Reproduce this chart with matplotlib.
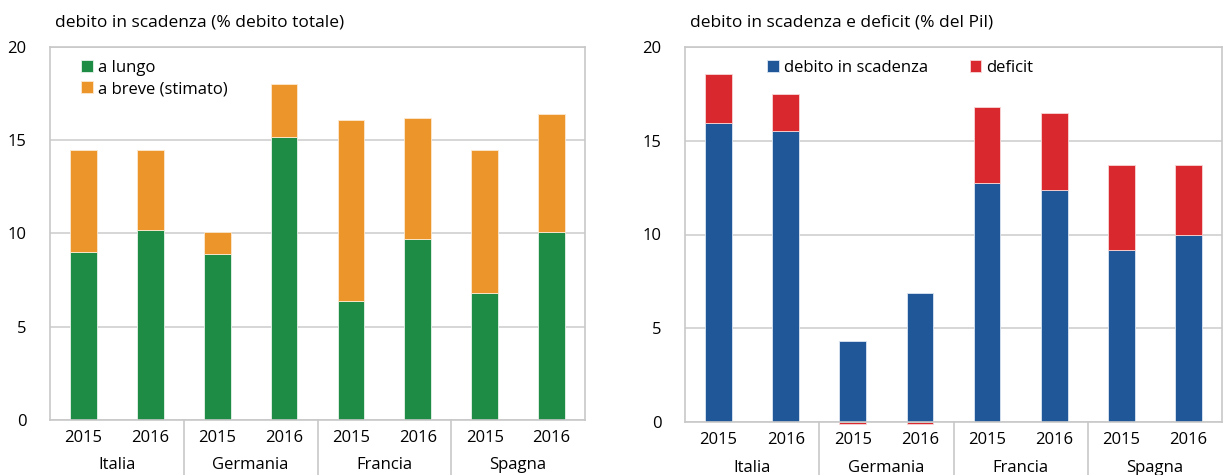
import numpy as np
import matplotlib.pyplot as plt

plt.rcParams['font.family'] = ['Open Sans', 'DejaVu Sans']

paesi = ["Italia", "Germania", "Francia", "Spagna"]
anni = ["2015", "2016"]

# pannello sinistro: % debito totale
a_lungo = [9.0, 10.2, 8.9, 15.2, 6.4, 9.7, 6.8, 10.1]
a_breve = [5.5, 4.3, 1.2, 2.8, 9.7, 6.5, 7.7, 6.3]

# pannello destro: % del Pil
debito_scad = [15.95, 15.5, 4.3, 6.9, 12.75, 12.4, 9.2, 10.0]
deficit = [2.6, 2.0, -0.1, -0.1, 4.05, 4.1, 4.5, 3.7]

fig = plt.figure(figsize=(12.24, 4.75), dpi=100)
ax1 = fig.add_axes([50 / 1224, 55 / 475, 535 / 1224, 373 / 475])
ax2 = fig.add_axes([685 / 1224, 53 / 475, 537 / 1224, 375 / 475])

x = np.arange(len(a_lungo))
labels_anni = anni * len(paesi)


def style(ax, title):
    ax.set_ylim(0, 20)
    ax.set_xlim(-0.5, len(x) - 0.5)
    ax.set_yticks([0, 5, 10, 15, 20])
    ax.grid(axis='y', color='#d0d0d0', linewidth=1.2)
    ax.set_axisbelow(True)
    for s in ax.spines.values():
        s.set_color('#c8c8c8')
        s.set_linewidth(1.2)
    ax.tick_params(axis='y', length=0, pad=17, labelsize=12)
    ax.tick_params(axis='x', length=0, pad=7, labelsize=12)
    ax.set_xticks(x)
    ax.set_xticklabels(labels_anni)
    ax.text(0.01, 1.045, title, transform=ax.transAxes, fontsize=12.5,
            ha='left', va='bottom')
    tr = ax.get_xaxis_transform()
    for i, p in enumerate(paesi):
        ax.text(2 * i + 0.5, -0.1, p, transform=tr, ha='center',
                va='top', fontsize=12, clip_on=False)
    for k in range(1, len(paesi)):
        ax.plot([2 * k - 0.5, 2 * k - 0.5], [0, -0.2], transform=tr,
                color='#c8c8c8', linewidth=1.2, clip_on=False)


w = 0.4
ax1.bar(x, a_lungo, w, color='#1e8c45', edgecolor='#e8f3ec', linewidth=0.6,
        label='a lungo')
ax1.bar(x, a_breve, w, bottom=a_lungo, color='#ec952b', edgecolor='#fbe9d2',
        linewidth=0.6, label='a breve (stimato)')
style(ax1, "debito in scadenza (% debito totale)")
ax1.legend(loc='upper left', bbox_to_anchor=(0.03, 1.005), frameon=False,
           fontsize=12, handlelength=0.7, handleheight=0.7, handletextpad=0.3,
           labelspacing=0.3)

ax2.bar(x, debito_scad, w, color='#1f5799', edgecolor='#dce6f2', linewidth=0.6,
        label='debito in scadenza')
bars = ax2.bar(x, deficit, w,
               bottom=[d if f > 0 else 0 for d, f in zip(debito_scad, deficit)],
               color='#d9282e', edgecolor='#f7d6d6', linewidth=0.6, label='deficit')
for b in bars:
    b.set_clip_on(False)
style(ax2, "debito in scadenza e deficit (% del Pil)")
ax2.legend(loc='upper left', bbox_to_anchor=(0.125, 1.005), frameon=False, ncol=2,
           fontsize=12, handlelength=0.7, handleheight=0.7, handletextpad=0.3,
           columnspacing=2.5)

fig.savefig("out.png", dpi=100)
